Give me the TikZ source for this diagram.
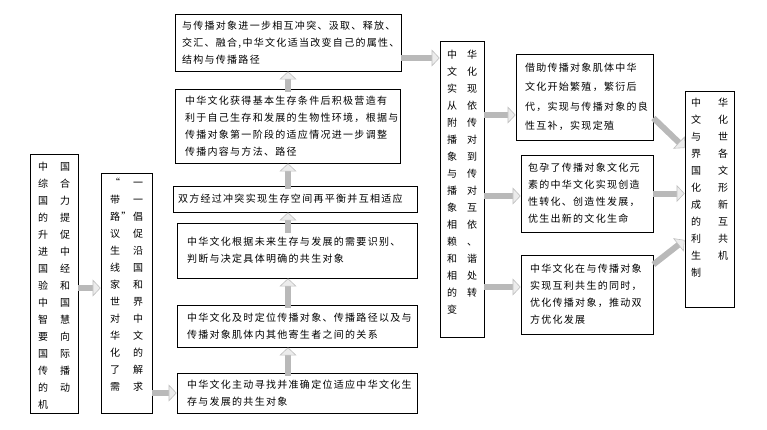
\documentclass[tikz,border=0pt]{standalone}
\usepackage{fontspec}
\newfontfamily\cjk[LetterSpace=13]{Noto Sans CJK SC}
\usetikzlibrary{arrows.meta}
\newcommand{\columna}[3]{\begin{minipage}[c][#1][t]{#2}\raggedright #3\end{minipage}}

\begin{document}
\begin{tikzpicture}[x=1pt,y=-1pt]
\tikzset{
    caja/.style={draw, line width=0.7pt, align=left, font=\cjk\fontsize{10}{17}\selectfont},
    columna/.style={draw, line width=0.7pt, font=\cjk\fontsize{10}{17}\selectfont},
    flecha/.style={line width=6pt, draw=gray!55, -{Triangle[length=8pt,width=17pt,line width=0.6pt,fill=gray!15,color=gray!50]}}
}
\useasboundingbox (0,0) rectangle (767,429);
\node[columna, inner xsep=8pt, inner ysep=8.5pt] (l1) at (54,283.5) {\columna{242pt}{32pt}{中\hfill 国\\综\hfill 合\\国\hfill 力\\的\hfill 提\\升\hfill 促\\进\hfill 中\\国\hfill 经\\验\hfill 和\\中\hfill 国\\智\hfill 慧\\要\hfill 向\\国\hfill 际\\传\hfill 播\\的\hfill 动\\机}};
\node[columna, inner xsep=9pt, inner ysep=5.5pt] (l2) at (126.5,293) {\columna{229pt}{33pt}{“\hfill 一\\带\hfill 一\\路”\hfill 倡\\议\hfill 促\\生\hfill 沿\\线\hfill 国\\家\hfill 和\\世\hfill 界\\对\hfill 中\\华\hfill 文\\化\hfill 的\\了\hfill 解\\需\hfill 求}};
\node[caja, minimum width=226pt, minimum height=57pt, inner xsep=7pt, text width=212pt] (m1) at (288,42.5) {与传播对象进一步相互冲突、汲取、释放、\\交汇、融合,中华文化适当改变自己的属性、\\结构与传播路径};
\node[caja, minimum width=225pt, minimum height=74pt, inner xsep=10pt, text width=205pt] (m2) at (287.5,126) {中华文化获得基本生存条件后积极营造有\\利于自己生存和发展的生物性环境，根据与\\传播对象第一阶段的适应情况进一步调整\\传播内容与方法、路径};
\node[caja, minimum width=244pt, minimum height=26pt, inner xsep=5pt, text width=234pt] (m3) at (295,199) {双方经过冲突实现生存空间再平衡并互相适应};
\node[caja, minimum width=240pt, minimum height=55pt, inner xsep=10pt, text width=220pt] (m4) at (297,250.5) {中华文化根据未来生存与发展的需要识别、\\判断与决定具体明确的共生对象};
\node[caja, minimum width=240pt, minimum height=42pt, inner xsep=10pt, text width=220pt] (m5) at (297,326) {中华文化及时定位传播对象、传播路径以及与\\传播对象肌体内其他寄生者之间的关系};
\node[caja, minimum width=240pt, minimum height=40pt, inner xsep=10pt, text width=220pt] (m6) at (297,393) {中华文化主动寻找并准确定位适应中华文化生\\存与发展的共生对象};
\node[columna, inner xsep=7pt, inner ysep=9.5pt] (v) at (462,189) {\columna{277pt}{30pt}{中\hfill 华\\文\hfill 化\\实\hfill 现\\从\hfill 依\\附\hfill 传\\播\hfill 对\\象\hfill 到\\与\hfill 传\\播\hfill 对\\象\hfill 互\\相\hfill 依\\赖\hfill 、\\和\hfill 谐\\相\hfill 处\\的\hfill 转\\变}};
\node[caja, font=\cjk\fontsize{10}{19.5}\selectfont, minimum width=137pt, minimum height=86pt, inner xsep=9pt, text width=119pt] (r1) at (584.5,97) {借助传播对象肌体中华\\文化开始繁殖，繁衍后\\代，实现与传播对象的良\\性互补，实现定殖};
\node[caja, minimum width=132pt, minimum height=77pt, inner xsep=7pt, text width=118pt] (r2) at (587,193.5) {包孕了传播对象文化元\\素的中华文化实现创造\\性转化、创造性发展，\\优生出新的文化生命};
\node[caja, minimum width=132pt, minimum height=79pt, inner xsep=9pt, text width=114pt] (r3) at (587,294.5) {中华文化在与传播对象\\实现互利共生的同时，\\优化传播对象，推动双\\方优化发展};
\node[columna, inner xsep=6pt, inner ysep=7.5pt] (f) at (709.5,199) {\columna{201pt}{37pt}{中\hfill 华\\文\hfill 化\\与\hfill 世\\界\hfill 各\\国\hfill 文\\化\hfill 形\\成\hfill 新\\的\hfill 互\\利\hfill 共\\生\hfill 机\\制}};
\draw[flecha] ([yshift=-4.5pt]l1.east) -- ([yshift=-4.5pt]l1.east -| l2.west);
\draw[flecha] (l2.east |- m6.west) -- (m6.west);
\draw[flecha] ([yshift=-3pt]m6.north -| m1.center) -- (m5.south -| m1.center);
\draw[flecha] ([yshift=-3pt]m5.north -| m1.center) -- (m4.south -| m1.center);
\draw[flecha] ([yshift=-10pt]m4.north -| m1.center) -- (m3.south -| m1.center);
\draw[flecha] ([yshift=-3pt]m3.north -| m1.center) -- (m2.south -| m1.center);
\draw[flecha] ([yshift=-3pt]m2.north -| m1.center) -- (m1.south);
\draw[flecha] ([yshift=-15.5pt]m1.east) -- ([yshift=-15.5pt]m1.east -| v.west);
\draw[flecha] ([yshift=-18pt]r1.west -| v.east) -- ([yshift=-18pt]r1.west);
\draw[flecha] ([yshift=-2.5pt]r2.west -| v.east) -- ([yshift=-2.5pt]r2.west);
\draw[flecha] ([yshift=7.5pt]r3.west -| v.east) -- ([yshift=7.5pt]r3.west);
\draw[flecha] ([yshift=-21pt]r1.east) -- ([yshift=51pt]f.west);
\draw[flecha] (r2.east) -- (r2.east -| f.west);
\draw[flecha] ([yshift=30pt]r3.east) -- ([yshift=-41pt]f.west);
\end{tikzpicture}
\end{document}
